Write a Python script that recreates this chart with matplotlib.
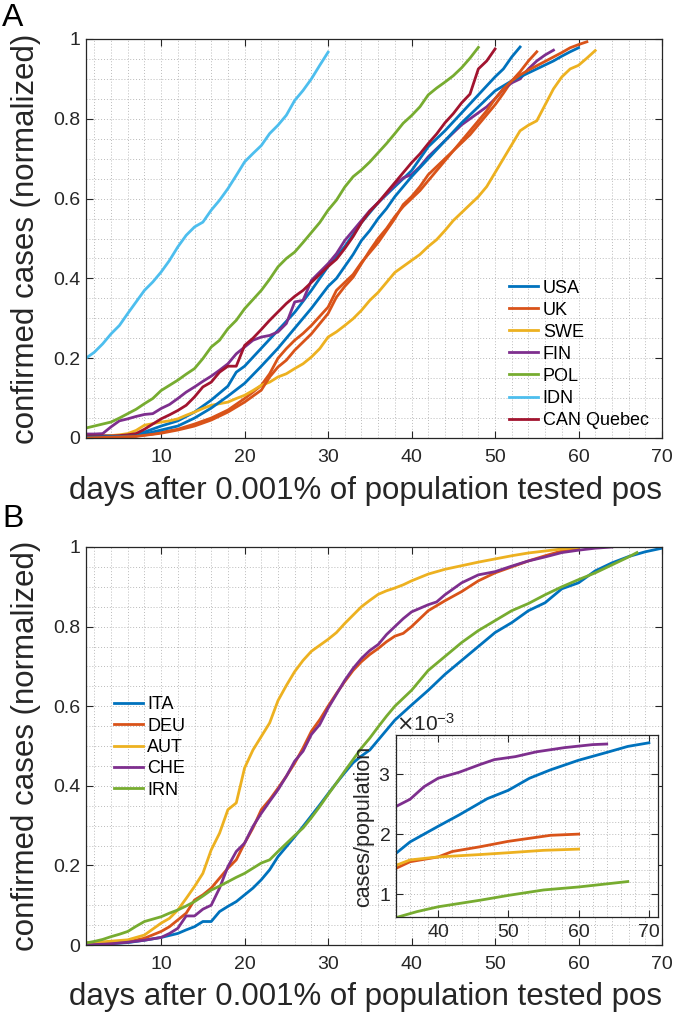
import matplotlib
matplotlib.use('Agg')
import matplotlib.pyplot as plt
from matplotlib.ticker import MultipleLocator, FuncFormatter

plt.rcParams['font.family'] = ['Liberation Sans', 'DejaVu Sans']

# MATLAB default colour order
C_BLUE = '#0072BD'
C_ORANGE = '#D95319'
C_YELLOW = '#EDB120'
C_PURPLE = '#7E2F8E'
C_GREEN = '#77AC30'
C_LBLUE = '#4DBEEE'
C_DRED = '#A2142F'
AX_COL = '#262626'

# ---------- panel A data ----------
usa_d = [1, 5, 7, 8, 10, 12, 14, 16, 18, 19, 20, 22, 24, 26, 28, 30, 32, 34, 36, 38, 40, 42, 44, 46, 48, 50, 51, 52, 53]
usa_v = [0.005, 0.006, 0.01, 0.015, 0.03, 0.043, 0.065, 0.095, 0.13, 0.165, 0.18, 0.225, 0.27, 0.315, 0.37, 0.43,
         0.48, 0.54, 0.59, 0.63, 0.67, 0.73, 0.77, 0.815, 0.86, 0.905, 0.925, 0.955, 0.98]

uk_d = [1, 4, 7, 9, 10, 12, 14, 16, 18, 20, 21, 22, 23, 24, 25, 26, 27, 28, 29, 30, 31, 32, 33, 34, 35, 36, 37, 38,
        39, 40, 41, 42, 43, 44, 45, 46, 47, 48, 49, 50, 51, 52, 53, 54, 55]
uk_v = [0.002, 0.003, 0.005, 0.01, 0.014, 0.022, 0.035, 0.05, 0.07, 0.099, 0.115, 0.132, 0.161, 0.2, 0.224, 0.245,
        0.262, 0.282, 0.305, 0.328, 0.37, 0.39, 0.41, 0.44, 0.465, 0.49, 0.52, 0.55, 0.585, 0.605, 0.63, 0.66, 0.68,
        0.7, 0.72, 0.74, 0.76, 0.785, 0.81, 0.835, 0.864, 0.895, 0.918, 0.945, 0.968]

swe_d = list(range(1, 63))
swe_v = [0.003, 0.004, 0.005, 0.006, 0.008, 0.011, 0.019, 0.032, 0.036, 0.04, 0.043, 0.048, 0.057, 0.065, 0.074,
         0.082, 0.086, 0.09, 0.099, 0.107, 0.119, 0.132, 0.14, 0.153, 0.161, 0.174, 0.186, 0.203, 0.224, 0.253,
         0.266, 0.282, 0.299, 0.32, 0.345, 0.365, 0.39, 0.415, 0.43, 0.445, 0.46, 0.48, 0.497, 0.52, 0.545, 0.565,
         0.585, 0.605, 0.63, 0.665, 0.7, 0.735, 0.77, 0.784, 0.795, 0.835, 0.875, 0.905, 0.925, 0.934, 0.952, 0.971]

fin_d = list(range(1, 58))
fin_v = [0.01, 0.01, 0.011, 0.028, 0.043, 0.048, 0.054, 0.059, 0.061, 0.074, 0.084, 0.099, 0.115, 0.128, 0.142,
         0.155, 0.17, 0.186, 0.211, 0.228, 0.245, 0.253, 0.257, 0.266, 0.287, 0.341, 0.345, 0.395, 0.416, 0.437,
         0.462, 0.495, 0.52, 0.545, 0.57, 0.59, 0.612, 0.635, 0.652, 0.66, 0.68, 0.705, 0.725, 0.745, 0.765, 0.785,
         0.8, 0.815, 0.83, 0.85, 0.875, 0.89, 0.9, 0.925, 0.945, 0.96, 0.972]

pol_d = list(range(1, 49))
pol_v = [0.025, 0.03, 0.035, 0.04, 0.05, 0.061, 0.072, 0.086, 0.099, 0.119, 0.132, 0.145, 0.16, 0.174, 0.199,
         0.228, 0.245, 0.274, 0.295, 0.324, 0.347, 0.37, 0.398, 0.429, 0.45, 0.466, 0.49, 0.515, 0.54, 0.571, 0.596,
         0.629, 0.655, 0.672, 0.692, 0.715, 0.738, 0.763, 0.789, 0.808, 0.83, 0.86, 0.877, 0.892, 0.908, 0.928,
         0.952, 0.979]

idn_d = list(range(1, 31))
idn_v = [0.2, 0.215, 0.236, 0.261, 0.282, 0.312, 0.341, 0.37, 0.391, 0.416, 0.445, 0.479, 0.508, 0.529, 0.541,
         0.571, 0.596, 0.625, 0.658, 0.692, 0.713, 0.733, 0.763, 0.784, 0.809, 0.846, 0.871, 0.9, 0.934, 0.967]

can_d = list(range(1, 51))
can_v = [0.005, 0.005, 0.005, 0.005, 0.006, 0.008, 0.011, 0.022, 0.035, 0.048, 0.058, 0.069, 0.082, 0.103, 0.128,
         0.14, 0.165, 0.18, 0.18, 0.232, 0.25, 0.272, 0.295, 0.316, 0.337, 0.355, 0.37, 0.39, 0.41, 0.43, 0.448,
         0.475, 0.505, 0.54, 0.568, 0.59, 0.615, 0.64, 0.665, 0.69, 0.712, 0.738, 0.762, 0.79, 0.813, 0.84, 0.862,
         0.925, 0.945, 0.975]

# two more curves drawn with the cycled colours (not in legend)
extra_blue_d = [1, 7, 10, 12, 14, 16, 18, 20, 22, 24, 26, 28, 30, 31, 32, 33, 34, 35, 36, 37, 38, 40, 42, 44, 46,
                48, 50, 52, 53, 54, 55, 56, 57, 58, 59, 60]
extra_blue_v = [0.002, 0.005, 0.02, 0.03, 0.05, 0.075, 0.105, 0.137, 0.18, 0.225, 0.275, 0.325, 0.38, 0.4, 0.43,
                0.46, 0.495, 0.52, 0.55, 0.575, 0.605, 0.655, 0.7, 0.745, 0.79, 0.83, 0.87, 0.895, 0.905, 0.915,
                0.925, 0.935, 0.945, 0.957, 0.968, 0.978]

extra_orange_d = [1, 7, 10, 12, 14, 16, 18, 20, 22, 23, 24, 25, 26, 28, 30, 31, 32, 33, 34, 35, 36, 37, 38, 39, 40,
                  41, 42, 43, 44, 45, 46, 47, 48, 49, 50, 51, 52, 53, 54, 55, 56, 57, 58, 59, 60, 61]
extra_orange_v = [0.0, 0.004, 0.012, 0.02, 0.03, 0.045, 0.065, 0.09, 0.12, 0.153, 0.178, 0.195, 0.22, 0.261, 0.312,
                  0.353, 0.38, 0.403, 0.437, 0.47, 0.5, 0.525, 0.555, 0.58, 0.6, 0.62, 0.645, 0.67, 0.695, 0.72,
                  0.745, 0.77, 0.795, 0.82, 0.85, 0.875, 0.895, 0.91, 0.922, 0.933, 0.944, 0.955, 0.966, 0.978,
                  0.986, 0.993]

# ---------- panel B data ----------
ita_d = [1, 3, 6, 8, 10, 11, 12, 13, 14, 15, 16, 17, 18, 19, 20, 21, 22, 23, 24, 25, 26, 27, 28, 29, 30, 31, 32,
         33, 34, 35, 36, 37, 38, 40, 42, 44, 46, 48, 50, 52, 54, 56, 58, 60, 62, 64, 66, 68, 70]
ita_v = [0.0, 0.002, 0.006, 0.012, 0.019, 0.024, 0.029, 0.038, 0.046, 0.059, 0.059, 0.084, 0.097, 0.109, 0.126,
         0.143, 0.164, 0.189, 0.222, 0.247, 0.272, 0.298, 0.325, 0.352, 0.38, 0.407, 0.433, 0.458, 0.475, 0.49,
         0.515, 0.54, 0.565, 0.603, 0.64, 0.68, 0.715, 0.75, 0.785, 0.81, 0.84, 0.86, 0.895, 0.91, 0.94, 0.96,
         0.976, 0.988, 0.997]

deu_d = [1, 4, 6, 8, 10, 11, 12, 13, 14, 15, 16, 17, 18, 19, 20, 21, 22, 23, 24, 25, 26, 27, 28, 29, 30, 31, 32,
         33, 34, 35, 36, 37, 38, 39, 40, 42, 44, 46, 48, 50, 52, 54, 56, 58, 60]
deu_v = [0.005, 0.006, 0.008, 0.017, 0.034, 0.046, 0.063, 0.08, 0.113, 0.126, 0.143, 0.168, 0.193, 0.214, 0.256,
         0.294, 0.34, 0.365, 0.394, 0.424, 0.457, 0.495, 0.537, 0.566, 0.6, 0.632, 0.662, 0.69, 0.712, 0.73,
         0.745, 0.762, 0.776, 0.783, 0.8, 0.84, 0.865, 0.888, 0.915, 0.935, 0.95, 0.965, 0.978, 0.99, 0.997]

aut_d = [1, 3, 6, 8, 10, 11, 12, 13, 14, 15, 16, 17, 18, 19, 20, 21, 22, 23, 24, 25, 26, 27, 28, 29, 30, 31, 32,
         33, 34, 35, 36, 37, 38, 39, 40, 42, 44, 46, 48, 50, 52, 54, 56, 58, 60]
aut_v = [0.005, 0.008, 0.013, 0.025, 0.055, 0.067, 0.088, 0.117, 0.147, 0.18, 0.239, 0.281, 0.34, 0.357, 0.445,
         0.49, 0.524, 0.558, 0.614, 0.652, 0.687, 0.715, 0.738, 0.753, 0.768, 0.785, 0.808, 0.829, 0.85, 0.866,
         0.881, 0.89, 0.897, 0.905, 0.915, 0.932, 0.944, 0.953, 0.962, 0.97, 0.978, 0.985, 0.99, 0.995, 0.999]

che_d = [1, 4, 6, 8, 10, 11, 12, 13, 14, 15, 16, 17, 18, 19, 20, 21, 22, 23, 24, 25, 26, 27, 28, 29, 30, 31, 32,
         33, 34, 35, 36, 37, 38, 39, 40, 42, 43, 44, 46, 48, 50, 52, 54, 56, 58, 60, 62, 64]
che_v = [0.0, 0.003, 0.007, 0.012, 0.019, 0.029, 0.042, 0.073, 0.073, 0.09, 0.1, 0.143, 0.197, 0.235, 0.256, 0.298,
         0.331, 0.361, 0.39, 0.424, 0.462, 0.487, 0.529, 0.554, 0.595, 0.63, 0.665, 0.695, 0.72, 0.74, 0.755, 0.78,
         0.8, 0.82, 0.837, 0.855, 0.862, 0.88, 0.91, 0.93, 0.938, 0.952, 0.965, 0.975, 0.986, 0.992, 0.997, 1.0]

irn_d = [1, 2, 3, 4, 5, 6, 7, 8, 9, 10, 11, 12, 13, 14, 15, 16, 17, 18, 19, 20, 21, 22, 23, 24, 25, 26, 27, 28, 29,
         30, 31, 32, 33, 34, 35, 36, 37, 38, 40, 42, 44, 46, 48, 50, 52, 54, 56, 58, 60, 62, 64, 66, 67]
irn_v = [0.005, 0.009, 0.014, 0.021, 0.027, 0.034, 0.047, 0.059, 0.065, 0.071, 0.08, 0.088, 0.098, 0.109, 0.123,
         0.138, 0.148, 0.159, 0.17, 0.18, 0.193, 0.206, 0.214, 0.235, 0.255, 0.275, 0.294, 0.32, 0.348, 0.378,
         0.407, 0.437, 0.466, 0.495, 0.52, 0.548, 0.575, 0.6, 0.64, 0.69, 0.725, 0.76, 0.79, 0.815, 0.84, 0.858,
         0.88, 0.9, 0.918, 0.935, 0.955, 0.975, 0.986]

# ---------- inset data (cases / population) ----------
che_in_d = [34, 36, 38, 40, 43, 46, 48, 51, 54, 58, 62, 64]
che_in_v = [2.46e-3, 2.58e-3, 2.79e-3, 2.93e-3, 3.03e-3, 3.16e-3, 3.24e-3, 3.29e-3, 3.37e-3, 3.44e-3, 3.49e-3, 3.5e-3]
ita_in_d = [34, 36, 40, 43, 47, 50, 53, 56, 60, 64, 67, 70]
ita_in_v = [1.68e-3, 1.87e-3, 2.13e-3, 2.32e-3, 2.59e-3, 2.73e-3, 2.93e-3, 3.07e-3, 3.23e-3, 3.36e-3, 3.46e-3, 3.52e-3]
deu_in_d = [34, 36, 40, 42, 46, 50, 53, 56, 60]
deu_in_v = [1.43e-3, 1.54e-3, 1.62e-3, 1.71e-3, 1.79e-3, 1.88e-3, 1.93e-3, 1.98e-3, 2.0e-3]
aut_in_d = [34, 36, 40, 46, 50, 55, 60]
aut_in_v = [1.48e-3, 1.57e-3, 1.62e-3, 1.66e-3, 1.69e-3, 1.73e-3, 1.75e-3]
irn_in_d = [34, 37, 40, 46, 50, 55, 60, 67]
irn_in_v = [0.61e-3, 0.71e-3, 0.79e-3, 0.9e-3, 0.98e-3, 1.07e-3, 1.12e-3, 1.21e-3]

xlabel = 'days after 0.001% of population tested pos'
ylabel = 'confirmed cases (normalized)'


def style_axes(ax, xmaj, xmin, ymaj, ymin, fs=14):
    ax.xaxis.set_major_locator(MultipleLocator(xmaj))
    ax.xaxis.set_minor_locator(MultipleLocator(xmin))
    ax.yaxis.set_major_locator(MultipleLocator(ymaj))
    ax.yaxis.set_minor_locator(MultipleLocator(ymin))
    ax.grid(which='both', linestyle=(0, (1, 2)), color='#bbbbbb', linewidth=0.7)
    ax.set_axisbelow(True)
    ax.tick_params(which='major', direction='in', top=True, right=True, length=5, width=0.8,
                   labelsize=fs, colors=AX_COL, pad=4)
    ax.tick_params(axis='x', which='major', pad=8)
    ax.tick_params(which='minor', length=0)
    for s in ax.spines.values():
        s.set_color(AX_COL)
        s.set_linewidth(0.9)


fmt_g = FuncFormatter(lambda v, p: '%g' % round(v, 6))
lw = 2.0

fig = plt.figure(figsize=(6.73, 10.14), dpi=100)

# ---------- panel A ----------
axA = fig.add_axes([86 / 673, 576 / 1014, 576 / 673, 399 / 1014])
axA.plot(usa_d, usa_v, color=C_BLUE, lw=lw, label='USA')
axA.plot(uk_d, uk_v, color=C_ORANGE, lw=lw, label='UK')
axA.plot(swe_d, swe_v, color=C_YELLOW, lw=lw, label='SWE')
axA.plot(fin_d, fin_v, color=C_PURPLE, lw=lw, label='FIN')
axA.plot(pol_d, pol_v, color=C_GREEN, lw=lw, label='POL')
axA.plot(idn_d, idn_v, color=C_LBLUE, lw=lw, label='IDN')
axA.plot(can_d, can_v, color=C_DRED, lw=lw, label='CAN Quebec')
axA.plot(extra_blue_d, extra_blue_v, color=C_BLUE, lw=lw)
axA.plot(extra_orange_d, extra_orange_v, color=C_ORANGE, lw=lw)
axA.set_xlim(1, 70)
axA.set_ylim(0, 1)
style_axes(axA, 10, 2, 0.2, 0.05)
axA.yaxis.set_major_formatter(fmt_g)
axA.set_xlabel(xlabel, fontsize=22.5, color=AX_COL)
axA.xaxis.set_label_coords(0.485, -0.094)
axA.set_ylabel(ylabel, fontsize=22.5, color=AX_COL, labelpad=9)
hA, lA = axA.get_legend_handles_labels()
axA.legend(hA[:7], lA[:7], loc='upper left', bbox_to_anchor=(0.735, 0.397), frameon=False, fontsize=13,
           handlelength=1.6, handletextpad=0.25, labelspacing=0.28, borderpad=0, borderaxespad=0)

# ---------- panel B ----------
axB = fig.add_axes([86 / 673, 69 / 1014, 576 / 673, 398 / 1014])
axB.plot(ita_d, ita_v, color=C_BLUE, lw=lw, label='ITA')
axB.plot(deu_d, deu_v, color=C_ORANGE, lw=lw, label='DEU')
axB.plot(aut_d, aut_v, color=C_YELLOW, lw=lw, label='AUT')
axB.plot(che_d, che_v, color=C_PURPLE, lw=lw, label='CHE')
axB.plot(irn_d, irn_v, color=C_GREEN, lw=lw, label='IRN')
axB.set_xlim(1, 70)
axB.set_ylim(0, 1)
style_axes(axB, 10, 2, 0.2, 0.05)
axB.yaxis.set_major_formatter(fmt_g)
axB.set_xlabel(xlabel, fontsize=22.5, color=AX_COL)
axB.xaxis.set_label_coords(0.485, -0.094)
axB.set_ylabel(ylabel, fontsize=22.5, color=AX_COL, labelpad=9)
axB.legend(loc='upper left', bbox_to_anchor=(0.048, 0.625), frameon=False, fontsize=13,
           handlelength=1.6, handletextpad=0.25, labelspacing=0.24, borderpad=0, borderaxespad=0)

# ---------- inset ----------
axI = fig.add_axes([396 / 673, 97 / 1014, 262 / 673, 182 / 1014])
axI.plot(ita_in_d, ita_in_v, color=C_BLUE, lw=lw)
axI.plot(deu_in_d, deu_in_v, color=C_ORANGE, lw=lw)
axI.plot(aut_in_d, aut_in_v, color=C_YELLOW, lw=lw)
axI.plot(che_in_d, che_in_v, color=C_PURPLE, lw=lw)
axI.plot(irn_in_d, irn_in_v, color=C_GREEN, lw=lw)
axI.set_xlim(34, 71.3)
axI.set_ylim(0.62e-3, 3.65e-3)
style_axes(axI, 10, 2, 1e-3, 0.2e-3)
axI.tick_params(axis='x', which='major', pad=5)
axI.ticklabel_format(axis='y', style='sci', scilimits=(0, 0), useMathText=True)
axI.yaxis.get_offset_text().set_fontsize(15)
axI.yaxis.get_offset_text().set_color(AX_COL)
axI.set_ylabel('cases/population', fontsize=15.5, color=AX_COL, labelpad=3)

fig.text(0.003, 0.997, 'A', fontsize=23, va='top', ha='left')
fig.text(0.003, 0.503, 'B', fontsize=23, va='top', ha='left')

fig.savefig('out.png', dpi=100)
